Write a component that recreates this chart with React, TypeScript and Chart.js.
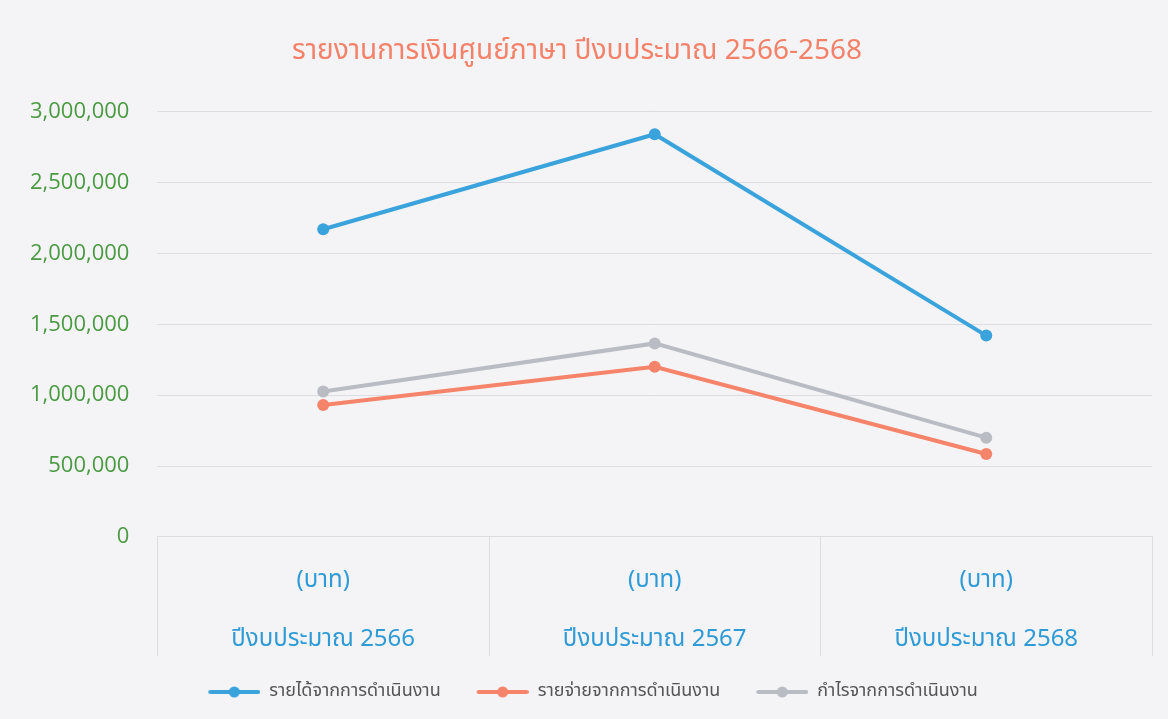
import React, { useEffect, useRef } from "react";
import { Chart, registerables } from "chart.js";

Chart.register(...registerables);

const chartTitle = "รายงานการเงินศูนย์ภาษา ปีงบประมาณ 2566-2568";
const unitLabel = "(บาท)";
const categories = ["ปีงบประมาณ 2566", "ปีงบประมาณ 2567", "ปีงบประมาณ 2568"];
const seriesNames = ["รายได้จากการดำเนินงาน", "รายจ่ายจากการดำเนินงาน", "กำไรจากการดำเนินงาน"];
const revenue = [2170000, 2840000, 1420000];
const expense = [930000, 1200000, 585000];
const profit = [1025000, 1365000, 700000];
const seriesColors = ["#3aa3dc", "#f5846a", "#b9bdc3"];
const yMax = 3000000;
const yStep = 500000;

const FONT = "'Noto Sans Thai', 'Leelawadee UI', Tahoma, 'Open Sans', sans-serif";
const GRID = "#dcdde2";

function makeIcon(color: string): HTMLCanvasElement {
  const c = document.createElement("canvas");
  c.width = 84;
  c.height = 14;
  const ctx = c.getContext("2d")!;
  ctx.strokeStyle = color;
  ctx.lineWidth = 4;
  ctx.lineCap = "round";
  ctx.beginPath();
  ctx.moveTo(34, 7);
  ctx.lineTo(82, 7);
  ctx.stroke();
  ctx.fillStyle = color;
  ctx.beginPath();
  ctx.arc(58, 7, 5.5, 0, Math.PI * 2);
  ctx.fill();
  return c;
}

const dividerPlugin = {
  id: "categoryDividers",
  afterDraw(chart: any) {
    const xs = chart.scales.x;
    const ctx = chart.ctx;
    const n = chart.data.labels.length;
    ctx.save();
    ctx.strokeStyle = GRID;
    ctx.lineWidth = 1;
    for (let i = 0; i <= n; i++) {
      const x = Math.round(xs.getPixelForValue(i - 0.5)) + 0.5;
      ctx.beginPath();
      ctx.moveTo(x, xs.top);
      ctx.lineTo(x, xs.bottom - 23);
      ctx.stroke();
    }
    ctx.restore();
  },
};

export default function App() {
  const ref = useRef<HTMLCanvasElement | null>(null);

  useEffect(() => {
    if (!ref.current) return;
    const values = [revenue, expense, profit];
    const icons = seriesColors.map(makeIcon);
    const chart = new Chart(ref.current, {
      type: "line",
      data: {
        labels: categories.map((c) => [unitLabel, c]),
        datasets: seriesNames.map((name, i) => ({
          label: name,
          data: values[i],
          borderColor: seriesColors[i],
          backgroundColor: seriesColors[i],
          borderWidth: 4,
          pointRadius: 6,
          pointHoverRadius: 6,
          pointBackgroundColor: seriesColors[i],
          pointBorderWidth: 0,
          tension: 0,
        })),
      },
      plugins: [dividerPlugin],
      options: {
        animation: false,
        responsive: false,
        maintainAspectRatio: false,
        layout: { padding: { left: 2, right: 16, top: 0, bottom: 8 } },
        plugins: {
          title: {
            display: true,
            text: chartTitle,
            color: "#f4826a",
            font: { family: FONT, size: 28, weight: "normal" },
            padding: { top: 37, bottom: 41 },
          },
          legend: {
            position: "bottom",
            labels: {
              color: "#555555",
              font: { family: FONT, size: 18 },
              usePointStyle: true,
              pointStyleWidth: 84,
              padding: 4,
              generateLabels: (ch: any) =>
                ch.data.datasets.map((ds: any, i: number) => ({
                  text: ds.label as string,
                  fillStyle: seriesColors[i],
                  strokeStyle: seriesColors[i],
                  lineWidth: 0,
                  pointStyle: icons[i],
                  hidden: false,
                  datasetIndex: i,
                  fontColor: "#555555",
                })),
            },
          },
          tooltip: { enabled: false },
        },
        scales: {
          x: {
            offset: true,
            grid: { display: false },
            border: { display: true, color: GRID },
            ticks: {
              color: "#2e9ad6",
              font: { family: FONT, size: 24, lineHeight: 2.46 },
              padding: 8,
              maxRotation: 0,
              autoSkip: false,
            },
          },
          y: {
            min: 0,
            max: yMax,
            grid: { color: GRID, drawTicks: false },
            border: { display: false },
            ticks: {
              stepSize: yStep,
              color: "#4a9a42",
              font: { family: "'Open Sans', sans-serif", size: 22 },
              padding: 28,
              callback: (v: any) => Number(v).toLocaleString("en-US"),
            },
          },
        },
      },
    });
    return () => chart.destroy();
  }, []);

  return (
    <div style={{ position: "fixed", inset: 0, background: "#f4f4f6" }}>
      <canvas ref={ref} width={1168} height={719} style={{ display: "block" }} />
    </div>
  );
}
